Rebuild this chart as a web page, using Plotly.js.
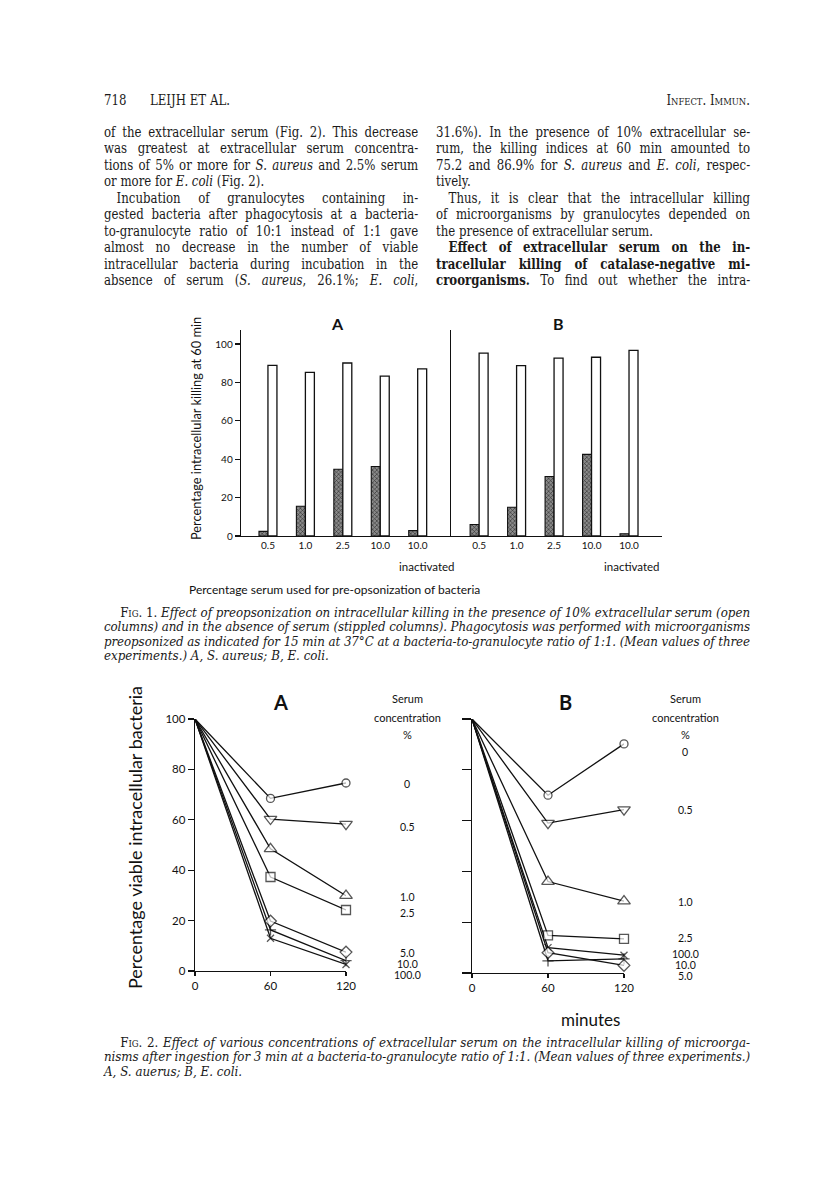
<!DOCTYPE html>
<html>
<head>
<meta charset="utf-8">
<script src="https://cdn.plot.ly/plotly-3.0.1.min.js"></script>
<style>
  html, body { margin: 0; padding: 0; background: #fff; }
  #page { position: relative; width: 816px; height: 1186px; overflow: hidden; background: #fff; }
  #chart { position: absolute; left: 0; top: 0; width: 816px; height: 1186px; }
  .txt { position: absolute; font-family: "DejaVu Serif", "Liberation Serif", serif; color: #1a1a1a; z-index: 5; pointer-events: none; }
  .col { width: 374px; font-size: 14px; line-height: 16.5px; transform: scaleX(0.84); transform-origin: 0 0; }
  .ln { text-align: justify; text-align-last: justify; white-space: nowrap; height: 16.5px; overflow: visible; }
  .ln.last { text-align-last: left; }
  .ind { text-indent: 15px; }
  .cap { width: 680px; font-size: 12.5px; line-height: 14.5px; font-style: italic; transform: scaleX(0.95); transform-origin: 0 0; }
  .cap .ln { height: 14.5px; }
  .cap .ind { text-indent: 17px; }
  .sc { font-style: normal; font-variant: small-caps; }
  .hdr { font-size: 14px; line-height: 17px; width: 769px; transform: scaleX(0.84); transform-origin: 0 0; }
</style>
</head>
<body>
<div id="page">
  <div id="chart"></div>

  <div class="txt hdr" style="left:104px; top:92px;">
    <span>718</span><span style="margin-left:28px;">LEIJH ET AL.</span>
    <span style="position:absolute; right:0; font-variant:small-caps;">Infect. Immun.</span>
  </div>

  <div class="txt col" style="left:104px; top:123.5px;">
    <div class="ln">of the extracellular serum (Fig. 2). This decrease</div>
    <div class="ln">was greatest at extracellular serum concentra-</div>
    <div class="ln">tions of 5% or more for <i>S. aureus</i> and 2.5% serum</div>
    <div class="ln last">or more for <i>E. coli</i> (Fig. 2).</div>
    <div class="ln ind">Incubation of granulocytes containing in-</div>
    <div class="ln">gested bacteria after phagocytosis at a bacteria-</div>
    <div class="ln">to-granulocyte ratio of 10:1 instead of 1:1 gave</div>
    <div class="ln">almost no decrease in the number of viable</div>
    <div class="ln">intracellular bacteria during incubation in the</div>
    <div class="ln">absence of serum (<i>S. aureus</i>, 26.1%; <i>E. coli</i>,</div>
  </div>

  <div class="txt col" style="left:436px; top:123.5px;">
    <div class="ln">31.6%). In the presence of 10% extracellular se-</div>
    <div class="ln">rum, the killing indices at 60 min amounted to</div>
    <div class="ln">75.2 and 86.9% for <i>S. aureus</i> and <i>E. coli</i>, respec-</div>
    <div class="ln last">tively.</div>
    <div class="ln ind">Thus, it is clear that the intracellular killing</div>
    <div class="ln">of microorganisms by granulocytes depended on</div>
    <div class="ln last">the presence of extracellular serum.</div>
    <div class="ln ind"><b>Effect of extracellular serum on the in-</b></div>
    <div class="ln"><b>tracellular killing of catalase-negative mi-</b></div>
    <div class="ln"><b>croorganisms.</b> To find out whether the intra-</div>
  </div>

  <div class="txt cap" style="left:104px; top:605.5px;">
    <div class="ln ind"><span class="sc">Fig. 1.</span> Effect of preopsonization on intracellular killing in the presence of 10% extracellular serum (open</div>
    <div class="ln">columns) and in the absence of serum (stippled columns). Phagocytosis was performed with microorganisms</div>
    <div class="ln">preopsonized as indicated for 15 min at 37°C at a bacteria-to-granulocyte ratio of 1:1. (Mean values of three</div>
    <div class="ln last">experiments.) A, S. aureus; B, E. coli.</div>
  </div>

  <div class="txt cap" style="left:104px; top:1035.5px;">
    <div class="ln ind"><span class="sc">Fig. 2.</span> Effect of various concentrations of extracellular serum on the intracellular killing of microorga-</div>
    <div class="ln">nisms after ingestion for 3 min at a bacteria-to-granulocyte ratio of 1:1. (Mean values of three experiments.)</div>
    <div class="ln last">A, S. auerus; B, E. coli.</div>
  </div>
</div>

<script>
// ---------------- DATA ----------------
// Fig. 1: percentage intracellular killing at 60 min
const fig1Categories = ["0.5", "1.0", "2.5", "10.0", "10.0"];
const fig1Sublabel = "inactivated";
const fig1A_noSerum = [2.4, 15.5, 34.8, 36.2, 2.8];     // stippled columns, S. aureus
const fig1A_serum10 = [88.9, 85.2, 90.1, 83.3, 87.1];   // open columns, S. aureus
const fig1B_noSerum = [6.0, 15.0, 31.0, 42.5, 1.2];     // stippled columns, E. coli
const fig1B_serum10 = [95.3, 88.7, 92.7, 93.1, 96.7];   // open columns, E. coli

// Fig. 2: percentage viable intracellular bacteria
const fig2Minutes = [0, 60, 120];
const fig2Concentrations = ["0", "0.5", "1.0", "2.5", "5.0", "10.0", "100.0"];
const aureus_0   = [100, 68.5, 74.6];
const aureus_0_5 = [100, 60.3, 58.3];
const aureus_1   = [100, 48.5, 29.9];
const aureus_2_5 = [100, 37.3, 24.2];
const aureus_5   = [100, 19.8, 7.5];
const aureus_10  = [100, 16.3, 4.1];
const aureus_100 = [100, 13.0, 2.6];
const coli_0   = [100, 70.0, 90.2];
const coli_0_5 = [100, 59.0, 64.3];
const coli_1   = [100, 36.0, 28.3];
const coli_2_5 = [100, 14.8, 13.4];
const coli_5   = [100, 8.0, 3.0];
const coli_10  = [100, 4.8, 5.6];
const coli_100 = [100, 10.0, 7.0];
const fig2Tick = [0, 60, 120];
const yTicks = [0, 20, 40, 60, 80, 100];

// ---------------- PAGE TEXT FIT ----------------
document.querySelectorAll(".ln").forEach(el => {
  const over = el.scrollWidth - el.clientWidth;
  if (over > 0) {
    const n = el.textContent.length;
    el.style.letterSpacing = (-(over + 1) / n).toFixed(3) + "px";
  }
});

// ---------------- LAYOUT HELPERS ----------------
const W = 816, H = 1186;
const X = p => p / W;
const Y = p => 1 - p / H;
const FONT = "Lato, 'Open Sans', 'DejaVu Sans', sans-serif";
const INK = "#111";

const idx = fig1Categories.map((_, i) => i);

function barTrace(vals, xa, ya, stippled) {
  return {
    type: "bar", x: idx, y: vals, xaxis: xa, yaxis: ya,
    marker: stippled
      ? { color: "#6e6e6e", line: { color: INK, width: 1.1 },
          pattern: { shape: "x", fgcolor: "#2a2a2a", bgcolor: "#8a8a8a", size: 3, solidity: 0.35 } }
      : { color: "#ffffff", line: { color: INK, width: 1.3 } },
    hoverinfo: "skip", showlegend: false
  };
}

const symbolFor = {
  "0": "circle", "0.5": "triangle-down", "1.0": "triangle-up", "2.5": "square",
  "5.0": "diamond", "10.0": "cross-thin", "100.0": "x-thin"
};
const sizeFor = { "0": 8, "0.5": 11, "1.0": 11, "2.5": 9, "5.0": 9, "10.0": 8, "100.0": 7 };

function lineTrace(vals, conc, xa, ya) {
  const thin = symbolFor[conc].endsWith("thin");
  const s = sizeFor[conc];
  return {
    type: "scatter", mode: "lines+markers", x: fig2Minutes, y: vals, xaxis: xa, yaxis: ya,
    line: { color: INK, width: 1.3 },
    marker: { symbol: symbolFor[conc], size: fig2Minutes.map(m => (m === 0 ? 0 : s)),
              color: thin ? INK : "#fff", line: { color: INK, width: 1.3 } },
    cliponaxis: false, hoverinfo: "skip", showlegend: false
  };
}

const aureusSeries = [aureus_0, aureus_0_5, aureus_1, aureus_2_5, aureus_5, aureus_10, aureus_100];
const coliSeries = [coli_0, coli_0_5, coli_1, coli_2_5, coli_5, coli_10, coli_100];

const traces = [
  barTrace(fig1A_noSerum, "x", "y", true),
  barTrace(fig1A_serum10, "x", "y", false),
  barTrace(fig1B_noSerum, "x2", "y2", true),
  barTrace(fig1B_serum10, "x2", "y2", false)
];
fig2Concentrations.slice().reverse().forEach(c => {
  const i = fig2Concentrations.indexOf(c);
  traces.push(lineTrace(aureusSeries[i], c, "x3", "y3"));
  traces.push(lineTrace(coliSeries[i], c, "x4", "y4"));
});

const axBase = {
  showline: true, linecolor: INK, linewidth: 1.3, showgrid: false, zeroline: false,
  tickcolor: INK, tickwidth: 1.2, fixedrange: true,
  tickfont: { family: FONT, size: 10, color: INK }
};

const layout = {
  width: W, height: H, margin: { l: 0, r: 0, t: 0, b: 0 },
  paper_bgcolor: "rgba(0,0,0,0)", plot_bgcolor: "rgba(0,0,0,0)",
  barmode: "group", bargap: 0.52, bargroupgap: 0,
  font: { family: FONT, color: INK },
  xaxis: Object.assign({}, axBase, { domain: [X(241), X(451)], range: [-0.72, 4.89], anchor: "y",
    tickmode: "array", tickvals: idx, ticktext: fig1Categories, ticks: "",
    tickfont: { family: FONT, size: 10, color: INK } }),
  xaxis2: Object.assign({}, axBase, { domain: [X(451), X(662)], range: [-0.75, 4.88], anchor: "y2",
    tickmode: "array", tickvals: idx, ticktext: fig1Categories, ticks: "",
    tickfont: { family: FONT, size: 10, color: INK } }),
  yaxis: Object.assign({}, axBase, { domain: [Y(536), Y(330)], range: [0, 107.3], anchor: "x",
    tickmode: "array", tickvals: yTicks, ticks: "outside", ticklen: 5,
    tickfont: { family: FONT, size: 10, color: INK } }),
  yaxis2: Object.assign({}, axBase, { domain: [Y(536), Y(330)], range: [0, 107.3], anchor: "x2",
    matches: "y", ticks: "", showticklabels: false }),

  xaxis3: Object.assign({}, axBase, { domain: [X(195), X(346)], range: [0, 120], anchor: "y3",
    tickmode: "array", tickvals: fig2Tick, ticks: "outside", ticklen: 4,
    tickfont: { family: FONT, size: 11.5, color: INK } }),
  yaxis3: Object.assign({}, axBase, { domain: [Y(971), Y(719)], range: [0, 100], anchor: "x3",
    tickmode: "array", tickvals: yTicks, ticks: "outside", ticklen: 6,
    tickfont: { family: FONT, size: 11.5, color: INK } }),
  xaxis4: Object.assign({}, axBase, { domain: [X(472), X(624)], range: [0, 120], anchor: "y4",
    tickmode: "array", tickvals: fig2Tick, ticks: "outside", ticklen: 4,
    tickfont: { family: FONT, size: 11.5, color: INK } }),
  yaxis4: Object.assign({}, axBase, { domain: [Y(973), Y(719)], range: [0, 100], anchor: "x4",
    tickmode: "array", tickvals: yTicks, ticks: "outside", ticklen: 9, showticklabels: false }),
  annotations: []
};

function note(text, px, py, size, opts) {
  layout.annotations.push(Object.assign({
    text: text, xref: "paper", yref: "paper", x: X(px), y: Y(py),
    xanchor: "center", yanchor: "middle", showarrow: false,
    font: { family: FONT, size: size, color: INK }
  }, opts || {}));
}

// Fig. 1 texts
note("<b>A</b>", 337, 323, 16);
note("<b>B</b>", 558, 323, 16);
note("Percentage intracellular killing at 60 min", 196, 429, 12.8, { textangle: -90 });
note(fig1Sublabel, 427, 567, 11.5);
note(fig1Sublabel, 632, 567, 11.5);
note("Percentage serum used for pre-opsonization of bacteria", 334, 590, 12);

// Fig. 2 texts
note("<b>A</b>", 280, 702, 20);
note("<b>B</b>", 565, 702, 20);
note("Percentage viable intracellular bacteria", 135, 838, 18, { textangle: -90 });
note("minutes", 590, 1019, 17);

const headA = ["Serum", "concentration", "%"];
[698, 717, 734].forEach((py, i) => { note(headA[i], 407, py, 11); note(headA[i], 685, py, 11); });
const labelsA = [["0", 784], ["0.5", 827], ["1.0", 897], ["2.5", 913], ["5.0", 953], ["10.0", 964], ["100.0", 975]];
const labelsB = [["0", 752], ["0.5", 810], ["1.0", 902], ["2.5", 938], ["100.0", 954], ["10.0", 965], ["5.0", 976]];
labelsA.forEach(([t, py]) => note(t, 407, py, 10.5));
labelsB.forEach(([t, py]) => note(t, 685, py, 10.5));

Plotly.newPlot("chart", traces, layout, { staticPlot: true, displayModeBar: false });
</script>
</body>
</html>
